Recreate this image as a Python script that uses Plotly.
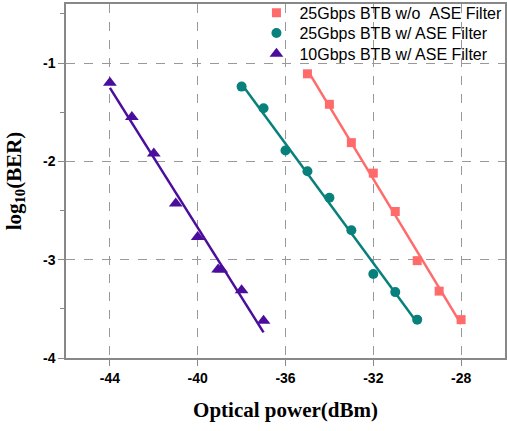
import numpy as np
import plotly.graph_objects as go

# ---- data ----
names = ["25Gbps BTB w/o\u00a0\u00a0ASE Filter", "25Gbps BTB w/ ASE Filter", "10Gbps BTB w/ ASE Filter"]

x_red = [-35, -34, -33, -32, -31, -30, -29, -28]
y_red = [-1.11, -1.42, -1.81, -2.12, -2.51, -3.01, -3.32, -3.61]

x_teal = [-38, -37, -36, -35, -34, -33, -32, -31, -30]
y_teal = [-1.24, -1.46, -1.89, -2.10, -2.37, -2.70, -3.145, -3.33, -3.61]

x_purple = [-44, -43, -42, -41, -40, -39.07, -38.93, -38, -37]
y_purple = [-1.20, -1.55, -1.92, -2.43, -2.77, -3.10, -3.10, -3.31, -3.62]

x_tickvals = [-44, -40, -36, -32, -28]
x_ticktext = ["-44", "-40", "-36", "-32", "-28"]
y_tickvals = [-1, -2, -3, -4]
y_ticktext = ["-1", "-2", "-3", "-4"]

colors = ["#FF6B6B", "#08807C", "#4B0E9C"]
symbols = ["square", "circle", "triangle-up"]
sizes = [9, 10, 12]
legend_ids = ["legend", "legend2", "legend3"]
legend_ys = [1.023, 0.966, 0.907]

fig = go.Figure()
series = [(x_red, y_red), (x_teal, y_teal), (x_purple, y_purple)]
for (xs, ys), c in zip(series, colors):
    xs_a = np.array(xs, dtype=float)
    k, b = np.polyfit(xs_a, np.array(ys, dtype=float), 1)
    xl = np.array([xs_a.min(), xs_a.max()])
    fig.add_trace(go.Scatter(x=xl, y=k * xl + b, mode="lines",
                             line=dict(color=c, width=2.5), showlegend=False,
                             hoverinfo="skip"))
for (xs, ys), c, s, sz, n, lg in zip(series, colors, symbols, sizes, names, legend_ids):
    fig.add_trace(go.Scatter(x=xs, y=ys, mode="markers", name=n, legend=lg,
                             marker=dict(color=c, symbol=s, size=sz)))

axis_font = dict(family="Liberation Sans, Arial", size=14, color="black", weight="bold")
title_font = dict(family="Liberation Serif, Times New Roman", size=21, color="black", weight="bold")
legend_font = dict(family="Liberation Sans, Arial", size=16, color="black")

legend_layout = {}
for lg, ly in zip(legend_ids, legend_ys):
    legend_layout[lg] = dict(x=0.427, y=ly, xanchor="left", yanchor="top",
                             bgcolor="rgba(0,0,0,0)", borderwidth=0,
                             font=legend_font, itemwidth=36)

fig.update_layout(
    width=507, height=431,
    margin=dict(l=66, r=2, t=4, b=73, autoexpand=False),
    paper_bgcolor="white", plot_bgcolor="white",
    showlegend=True,
    xaxis=dict(range=[-46, -26], tickvals=x_tickvals, ticktext=x_ticktext,
               tickfont=axis_font, ticks="outside", ticklen=6, tickcolor="#888",
               showline=True, linecolor="#888", linewidth=1.5, mirror=True,
               showgrid=True, gridcolor="#999", griddash="dash", gridwidth=1,
               zeroline=False,
               title=dict(text="Optical power(dBm)", font=title_font, standoff=18)),
    yaxis=dict(range=[-4, -0.4], tickvals=y_tickvals, ticktext=y_ticktext,
               tickfont=axis_font, ticks="outside", ticklen=6, tickcolor="#888",
               showline=True, linecolor="#888", linewidth=1.5, mirror=True,
               showgrid=True, gridcolor="#999", griddash="dash", gridwidth=1,
               zeroline=False,
               minor=dict(tickvals=[-3.5, -2.5, -1.5, -0.5], ticks="outside", ticklen=4,
                          tickcolor="#888", showgrid=False),
               title=dict(text="log<sub>10</sub>(BER)", font=title_font, standoff=16)),
    **legend_layout,
)

fig.write_html("out.html")
